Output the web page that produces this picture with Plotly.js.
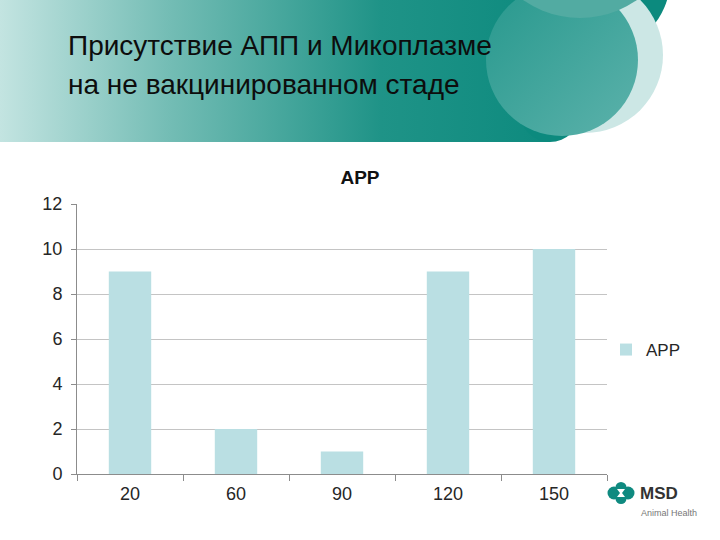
<!DOCTYPE html>
<html>
<head>
<meta charset="utf-8">
<script src="https://cdn.plot.ly/plotly-3.0.1.min.js"></script>
<style>html,body{margin:0;padding:0;background:#fff;}#chart{width:720px;height:540px;}</style>
</head>
<body>
<div id="chart"></div>
<script>
// ---- data ----
const categories = ["20", "60", "90", "120", "150"];
const appValues = [9, 2, 1, 9, 10];
const seriesName = "APP";
const chartTitle = "APP";
const headerLine1 = "Присутствие АПП и Микоплазме";
const headerLine2 = "на не вакцинированном стаде";

// ---- geometry helpers (pixel -> paper) ----
const W = 720, H = 540, ML = 77, MR = 113, MT = 204, MB = 66;
const PW = W - ML - MR, PH = H - MT - MB;
const px = x => (x - ML) / PW;
const py = y => (H - MB - y) / PH;

const headerSvg = `<svg xmlns="http://www.w3.org/2000/svg" width="720" height="150" viewBox="0 0 720 150">
<defs>
<linearGradient id="g" x1="0" y1="0" x2="560" y2="0" gradientUnits="userSpaceOnUse">
<stop offset="0" stop-color="#c3e4e1"/><stop offset="0.3" stop-color="#74bdb5"/>
<stop offset="0.68" stop-color="#1f9387"/><stop offset="1" stop-color="#0c8a7e"/></linearGradient>
<linearGradient id="m" x1="0" y1="0" x2="1" y2="1">
<stop offset="0" stop-color="#27988d"/><stop offset="1" stop-color="#5cb2ab"/></linearGradient>
</defs>
<rect x="0" y="0" width="550" height="142" fill="url(#g)"/>
<circle cx="550" cy="112" r="30" fill="#0c8a7e"/>
<circle cx="600" cy="-20" r="70" fill="#0c8a7e"/>
<circle cx="585" cy="55" r="78" fill="#cce7e5"/>
<circle cx="562" cy="60" r="76" fill="url(#m)"/>
<circle cx="580" cy="-81" r="99" fill="#52aba2"/>
</svg>`;

const logoSvg = `<svg xmlns="http://www.w3.org/2000/svg" width="28" height="22" viewBox="0 0 28 22">
<circle cx="7" cy="11" r="6.5" fill="#0f8a80"/>
<circle cx="21" cy="11" r="6.5" fill="#0f8a80"/>
<circle cx="14" cy="5.5" r="5.5" fill="#0f8a80"/>
<circle cx="14" cy="16.5" r="5.5" fill="#0f8a80"/>
<path d="M10 7 L18 7 L15 11 L18 15 L10 15 L13 11 Z" fill="#ffffff"/>
</svg>`;

const svgUri = s => "data:image/svg+xml;charset=utf-8," + encodeURIComponent(s);

const trace = {
  type: "bar",
  x: categories,
  y: appValues,
  name: seriesName,
  marker: {color: "#badfe3"},
  showlegend: true,
  hoverinfo: "x+y"
};

const fontFam = "Liberation Sans, Arial, sans-serif";

const layout = {
  width: W, height: H,
  margin: {l: ML, r: MR, t: MT, b: MB, pad: 0},
  paper_bgcolor: "#ffffff",
  plot_bgcolor: "rgba(0,0,0,0)",
  font: {family: fontFam, color: "#262626", size: 17},
  title: {text: "<b>" + chartTitle + "</b>", font: {family: fontFam, size: 19, color: "#111"},
          x: 0.5, xref: "container", xanchor: "center", y: 1 - 177 / H, yref: "container", yanchor: "middle"},
  bargap: 0.6,
  xaxis: {type: "category", tickson: "boundaries", ticks: "outside", ticklen: 6, tickcolor: "#8c8c8c",
          showline: true, linecolor: "#8c8c8c", linewidth: 1, showgrid: false, ticklabelstandoff: 3,
          tickfont: {size: 18, color: "#262626"}},
  yaxis: {range: [0, 12], dtick: 2, ticks: "outside", ticklen: 5, tickcolor: "#8c8c8c",
          showline: true, linecolor: "#8c8c8c", linewidth: 1, gridcolor: "#c4c4c4", gridwidth: 1,
          zeroline: false, ticklabelstandoff: 5, tickfont: {size: 18, color: "#262626"}},
  legend: {x: px(606), y: py(350), xanchor: "left", yanchor: "middle", font: {size: 17, color: "#262626"},
           bgcolor: "rgba(0,0,0,0)", itemwidth: 30},
  images: [
    {source: svgUri(headerSvg), xref: "paper", yref: "paper", x: px(0), y: py(0),
     sizex: 720 / PW, sizey: 150 / PH, sizing: "stretch", xanchor: "left", yanchor: "top", layer: "below"},
    {source: svgUri(logoSvg), xref: "paper", yref: "paper", x: px(607), y: py(482),
     sizex: 28 / PW, sizey: 22 / PH, sizing: "stretch", xanchor: "left", yanchor: "top", layer: "above"}
  ],
  annotations: [
    {text: headerLine1, xref: "paper", yref: "paper", x: px(66), y: py(46), xanchor: "left", yanchor: "middle",
     showarrow: false, font: {family: fontFam, size: 28, color: "#0d0d0d"}},
    {text: headerLine2, xref: "paper", yref: "paper", x: px(66), y: py(84), xanchor: "left", yanchor: "middle",
     showarrow: false, font: {family: fontFam, size: 28, color: "#0d0d0d"}},
    {text: "<b>MSD</b>", xref: "paper", yref: "paper", x: px(638), y: py(494), xanchor: "left", yanchor: "middle",
     showarrow: false, font: {family: fontFam, size: 17, color: "#333"}},
    {text: "Animal Health", xref: "paper", yref: "paper", x: px(639), y: py(513), xanchor: "left", yanchor: "middle",
     showarrow: false, font: {family: fontFam, size: 9, color: "#777"}}
  ]
};

Plotly.newPlot("chart", [trace], layout, {displayModeBar: false, staticPlot: true});
</script>
</body>
</html>
